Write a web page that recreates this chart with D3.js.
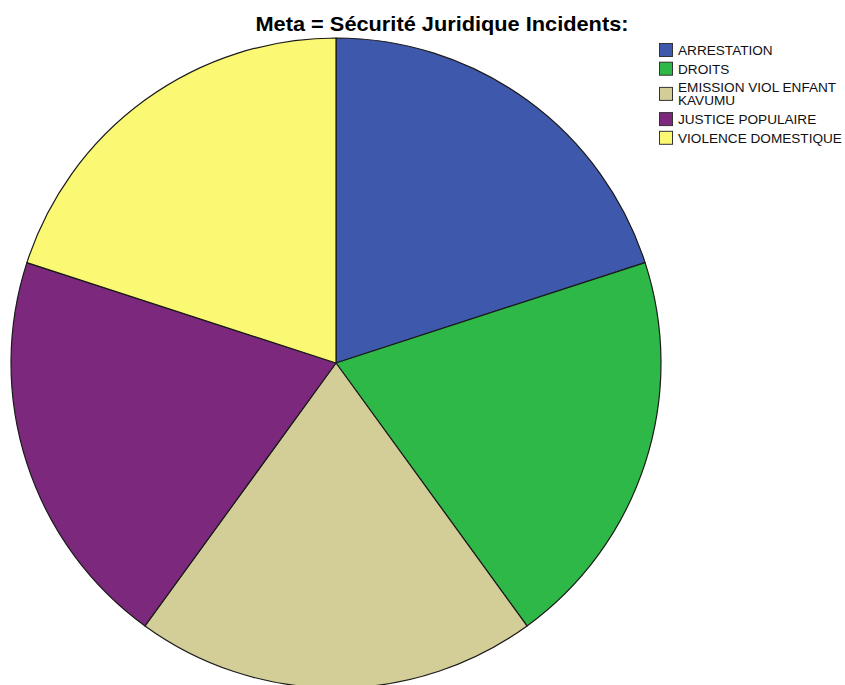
<!DOCTYPE html>
<html>
<head>
<meta charset="utf-8">
<script src="https://cdn.jsdelivr.net/npm/d3@7"></script>
<style>
  body { margin: 0; background: #fff; }
  text { font-family: "Liberation Sans", Arial, sans-serif; }
</style>
</head>
<body>
<div id="the_chart"></div>
<script>
var categories = ["ARRESTATION", "DROITS", "EMISSION VIOL ENFANT KAVUMU", "JUSTICE POPULAIRE", "VIOLENCE DOMESTIQUE"];
var legendLines = [["ARRESTATION"], ["DROITS"], ["EMISSION VIOL ENFANT", "KAVUMU"], ["JUSTICE POPULAIRE"], ["VIOLENCE DOMESTIQUE"]];
var counts = [1, 1, 1, 1, 1];
var colors = ["#3e58ac", "#2eb848", "#d3ce97", "#7c287d", "#fbf873"];
var title = "Meta = Sécurité Juridique Incidents:";

var w = 845, h = 685;
var cx = 336, cy = 363, radius = 325;

var svg = d3.select("#the_chart")
            .append("svg")
            .attr("width", w)
            .attr("height", h);

var dataset = categories.map(function (c, i) {
  return { name: c, value: counts[i], color: colors[i], lines: legendLines[i] };
});

var pie = d3.pie().sort(null).value(function (d) { return d.value; });
var arc = d3.arc().innerRadius(0).outerRadius(radius);

var g = svg.append("g").attr("transform", "translate(" + cx + "," + cy + ")");
g.selectAll("path")
 .data(pie(dataset))
 .enter().append("path")
 .attr("d", arc)
 .attr("fill", function (d) { return d.data.color; })
 .attr("stroke", "#1a1a1a")
 .attr("stroke-width", 1.2)
 .attr("stroke-linejoin", "round");

// title
svg.append("text")
   .attr("x", 442)
   .attr("y", 31)
   .attr("text-anchor", "middle")
   .attr("font-size", "20.5px")
   .attr("font-weight", "bold")
   .attr("textLength", 373)
   .attr("lengthAdjust", "spacingAndGlyphs")
   .text(title);

// legend
var lineH = 13, rowStep = 18.7;
var extra = 0;
var leg = svg.append("g");
dataset.forEach(function (d, i) {
  var base = 55 + rowStep * i + lineH * extra;
  var mid = base - 5 + (d.lines.length - 1) * lineH / 2;
  leg.append("rect")
     .attr("x", 659.5)
     .attr("y", mid - 6.5)
     .attr("width", 13)
     .attr("height", 13)
     .attr("fill", d.color)
     .attr("stroke", "#333")
     .attr("stroke-width", 1);
  d.lines.forEach(function (l, j) {
    leg.append("text")
       .attr("x", 678)
       .attr("y", base + j * lineH)
       .attr("font-size", "13.6px")
       .attr("fill", "#111")
       .text(l);
  });
  extra += d.lines.length - 1;
});
</script>
</body>
</html>
